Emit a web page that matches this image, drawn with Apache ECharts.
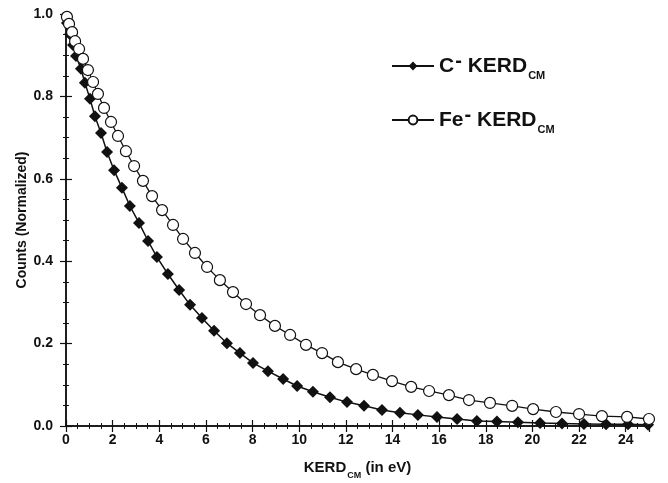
<!DOCTYPE html>
<html>
<head>
<meta charset="utf-8">
<script src="https://cdn.jsdelivr.net/npm/echarts@6/dist/echarts.min.js"></script>
<style>
  html, body { margin: 0; padding: 0; background: #fff; }
  #chart { width: 668px; height: 483px; }
</style>
</head>
<body>
<div id="chart"></div>
<script>
// Kinetic energy release distributions (centre-of-mass frame), normalized counts
const cEnergy = [0.04, 0.17, 0.30, 0.43, 0.64, 0.81, 1.03, 1.24, 1.50, 1.76,
  2.06, 2.40, 2.74, 3.13, 3.52, 3.90, 4.37, 4.85, 5.32, 5.83,
  6.35, 6.90, 7.46, 8.02, 8.66, 9.31, 9.91, 10.59, 11.32, 12.05,
  12.78, 13.55, 14.32, 15.09, 15.91, 16.77, 17.62, 18.48, 19.38, 20.33,
  21.27, 22.21, 23.16, 24.10, 24.96];
const cCounts = [0.978, 0.951, 0.925, 0.898, 0.867, 0.833, 0.794, 0.752, 0.711, 0.665,
  0.621, 0.578, 0.534, 0.493, 0.449, 0.410, 0.369, 0.330, 0.294, 0.262,
  0.231, 0.201, 0.177, 0.153, 0.133, 0.114, 0.097, 0.083, 0.070, 0.058,
  0.049, 0.039, 0.032, 0.027, 0.022, 0.017, 0.012, 0.011, 0.009, 0.007,
  0.006, 0.005, 0.004, 0.004, 0.003];

const feEnergy = [0.04, 0.13, 0.26, 0.39, 0.56, 0.73, 0.94, 1.16, 1.37, 1.63,
  1.93, 2.23, 2.57, 2.92, 3.30, 3.69, 4.12, 4.59, 5.02, 5.53,
  6.05, 6.60, 7.16, 7.72, 8.32, 8.96, 9.61, 10.29, 10.98, 11.66,
  12.44, 13.16, 13.98, 14.80, 15.57, 16.42, 17.28, 18.18, 19.13, 20.03,
  21.01, 22.00, 22.98, 24.06, 25.00];
const feCounts = [0.993, 0.976, 0.956, 0.934, 0.915, 0.891, 0.864, 0.835, 0.806, 0.772,
  0.738, 0.704, 0.667, 0.631, 0.595, 0.558, 0.524, 0.488, 0.454, 0.420,
  0.386, 0.354, 0.325, 0.296, 0.269, 0.243, 0.221, 0.197, 0.177, 0.155,
  0.138, 0.124, 0.109, 0.095, 0.085, 0.075, 0.063, 0.056, 0.049, 0.041,
  0.034, 0.029, 0.024, 0.022, 0.017];

const seriesNames = ['C', 'Fe'];

const FONT = '"Liberation Sans", Arial, sans-serif';
const pair = (xs, ys) => xs.map((x, i) => [x, ys[i]]);

const axisLine = { show: true, lineStyle: { color: '#111', width: 1.5 } };
const tick = { show: true, inside: true, length: 6, lineStyle: { color: '#111', width: 1.2 } };
const minorTick = { show: true, splitNumber: 4, length: 3, lineStyle: { color: '#111', width: 1 } };
const tickLabel = { fontFamily: FONT, fontWeight: 'bold', fontSize: 14, color: '#111' };

const legendRich = {
  b: { fontFamily: FONT, fontWeight: 'bold', fontSize: 21, color: '#111', lineHeight: 30 },
  sup: { fontFamily: FONT, fontWeight: 'bold', fontSize: 20, color: '#111', verticalAlign: 'top', lineHeight: 30, padding: [0, 0, 14, 1] },
  sub: { fontFamily: FONT, fontWeight: 'bold', fontSize: 11, color: '#111', verticalAlign: 'bottom', lineHeight: 30, padding: [12, 0, 0, 1] }
};

const chart = echarts.init(document.getElementById('chart'), null, { renderer: 'canvas' });
chart.setOption({
  animation: false,
  backgroundColor: '#fff',
  grid: { left: 66, right: 19, top: 14, bottom: 57, outerBoundsMode: 'none', containLabel: false },
  legend: {
    orient: 'vertical',
    left: 386,
    top: 46,
    itemWidth: 42,
    itemHeight: 11,
    itemGap: 20,
    data: seriesNames,
    formatter: n => '{b|' + n + '}{sup|-}{b| KERD}{sub|CM}',
    textStyle: { rich: legendRich }
  },
  xAxis: [{
    type: 'value', min: 0, max: 25, interval: 2,
    name: '{b|KERD}{s|CM}{b| (in eV)}',
    nameLocation: 'middle', nameGap: 30,
    nameTextStyle: {
      rich: {
        b: { fontFamily: FONT, fontWeight: 'bold', fontSize: 15, color: '#111', lineHeight: 24 },
        s: { fontFamily: FONT, fontWeight: 'bold', fontSize: 9, color: '#111', verticalAlign: 'bottom', lineHeight: 24, padding: [8, 0, 0, 1] }
      }
    },
    axisLine, axisTick: tick, minorTick,
    axisLabel: Object.assign({ margin: 7, showMaxLabel: false }, tickLabel),
    splitLine: { show: false }
  }, {
    type: 'value', position: 'top', min: 0, max: 25, interval: 2,
    axisLine, axisTick: tick, minorTick,
    axisLabel: { show: false }, splitLine: { show: false }
  }],
  yAxis: [{
    type: 'value', min: 0, max: 1, interval: 0.2,
    name: 'Counts (Normalized)',
    nameLocation: 'middle', nameGap: 37, nameMoveOverlap: false,
    nameTextStyle: { fontFamily: FONT, fontWeight: 'bold', fontSize: 14, color: '#111' },
    axisLine, axisTick: tick, minorTick,
    axisLabel: Object.assign({ margin: 13, formatter: v => v.toFixed(1) }, tickLabel),
    splitLine: { show: false }
  }, {
    type: 'value', position: 'right', min: 0, max: 1, interval: 0.2,
    axisLine, axisTick: tick, minorTick,
    axisLabel: { show: false }, splitLine: { show: false }
  }],
  series: [{
    name: 'C',
    type: 'line',
    data: pair(cEnergy, cCounts),
    symbol: 'diamond',
    symbolSize: 12,
    itemStyle: { color: '#111', borderColor: '#111', borderWidth: 0 },
    lineStyle: { color: '#111', width: 1.5 },
    clip: false,
    z: 3
  }, {
    name: 'Fe',
    type: 'line',
    data: pair(feEnergy, feCounts),
    symbol: 'circle',
    symbolSize: 11,
    itemStyle: { color: '#fff', borderColor: '#111', borderWidth: 1.2 },
    lineStyle: { color: '#111', width: 1.3 },
    clip: false,
    z: 4
  }]
});
</script>
</body>
</html>
